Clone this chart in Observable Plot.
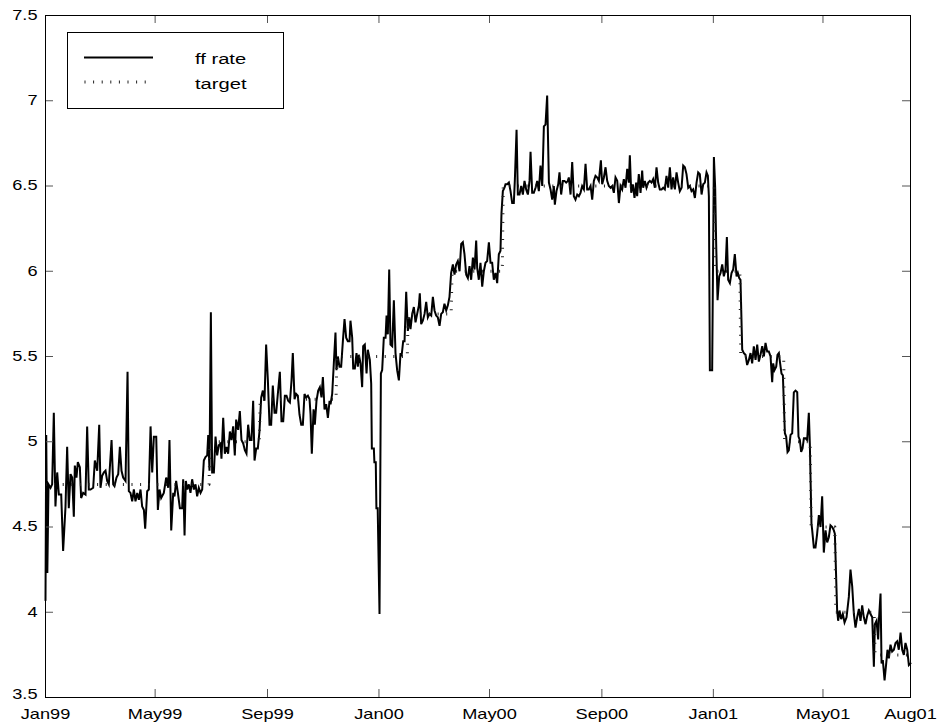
<!DOCTYPE html>
<html>
<head>
<meta charset="utf-8">
<script src="https://cdn.jsdelivr.net/npm/d3@7"></script>
<script src="https://cdn.jsdelivr.net/npm/@observablehq/plot@0.6"></script>
<style>
  html, body { margin: 0; padding: 0; background: #fff; }
  #chart { width: 938px; height: 726px; }
</style>
</head>
<body>
<div id="chart"></div>
<script>
// ---- data: [days since 1999-01-01, rate %] ----
const BASE_DATE = "1999-01-01";
const X_END_DATE = "2001-08-04T19:00:00Z";

const ffEarly1999 = [[0,4.07],[0.8,5.04],[2,4.23],[3.3,4.75],[5.5,4.73],[7.3,4.75],[9.1,5.17],[10.9,4.62],[12.8,4.82],[14.6,4.69],[17.2,4.69],[19.3,4.36],[21.9,4.62],[23.7,4.97],[25.5,4.61],[27.4,4.81],[29.2,4.79],[31,4.56],[32.1,4.86],[33.9,4.79],[35.4,4.88],[37.6,4.85],[39,4.67],[41.2,4.70],[43.8,4.69],[45.6,5.09],[47.4,4.72],[49.3,4.72],[52.2,4.73],[54,4.89],[56.6,4.83],[58.8,5.10],[60.2,4.73],[62,4.80],[63.9,4.82],[65.7,4.83],[67.5,4.77],[69.3,4.75],[72.3,5.01],[74.1,4.75],[75.5,4.74],[77.7,4.79],[79.6,4.81],[81.4,4.97],[83.2,4.83],[85,4.79],[87.6,4.77],[89.8,5.41],[91.2,4.71],[93,4.70],[94.9,4.65],[96.7,4.72],[98.5,4.65],[100.4,4.70],[102.2,4.66],[104,4.72],[105.8,4.62],[107.7,4.60],[109.1,4.49],[111.3,4.71],[113.1,4.72],[115,5.09],[116.8,4.82],[118.6,5.03],[121.2,5.03],[123,4.60],[124.8,4.72],[126.6,4.67],[129.5,4.70],[132.1,4.79],[134.3,4.73],[135.7,5.01],[137.6,4.48],[139.8,4.70],[141.2,4.68],[143,4.77],[144.9,4.70],[147.1,4.61],[149.6,4.61],[150.7,4.78],[152.2,4.45],[153.6,4.77]];

const ffLate1999 = [[155.1,4.72],[156.9,4.75],[158.7,4.70],[160.5,4.78],[162.4,4.72],[164.2,4.75],[166,4.68],[167.8,4.73],[169.7,4.70],[171.5,4.72],[173.3,4.89],[175.1,4.91],[177,4.92],[178.1,5.04],[179.5,4.83],[181,5.76],[182.4,4.82],[184.3,4.82],[186.1,5.03],[187.9,4.92],[189.7,4.98],[191.6,4.99],[192.6,4.90],[194.5,5.14],[196.3,4.93],[198.1,4.97],[199.9,4.93],[201.8,5.06],[203.6,5.01],[205.4,5.09],[207.2,4.92],[208.7,5.13],[210.9,5.07],[212.7,5.18],[214.5,5.01],[216.4,4.99],[218.2,4.95],[220,4.93],[221.8,5.10],[223.7,5.01],[225.5,5.01],[227.3,5.24],[228.8,4.89],[230.6,4.96],[232.4,4.96],[234.2,5.06],[236.1,5.26],[237.9,5.30],[239.7,5.24],[241.5,5.57],[243.4,5.36],[245.2,5.10],[247,5.10],[248.8,5.33],[250.7,5.17],[252.5,5.17],[254.3,5.28],[256.5,5.41],[258.3,5.12],[260.2,5.12],[262,5.27],[263.8,5.27],[265.6,5.24],[267.5,5.23],[269.3,5.36],[270.7,5.52],[272.6,5.25],[274.4,5.28],[276.2,5.27],[278,5.16],[279.9,5.10],[281.7,5.10],[283.5,5.28],[285.3,5.26],[287.2,5.27],[289,5.25],[290.1,5.16],[291.5,4.93],[293.4,5.19],[294.8,5.10],[296.6,5.24],[298.5,5.30],[300.3,5.32],[302.1,5.26],[303.6,5.38],[305.4,5.19],[307.2,5.22],[309.1,5.14],[310.9,5.24]];

const ffTurn2000 = [[312,5.22],[313.8,5.28],[315.6,5.46],[317.4,5.64],[318.5,5.42],[320,5.50],[321.8,5.44],[323.6,5.44],[325.5,5.59],[327.3,5.72],[329.1,5.61],[330.9,5.59],[332.8,5.59],[333.8,5.71],[335.7,5.61],[336.8,5.43],[338.6,5.43],[340.4,5.52],[341.9,5.44],[343,5.51],[344.8,5.46],[346.6,5.32],[347.7,5.56],[349.5,5.57],[351.4,5.40],[352.8,5.54],[355,5.48],[356.5,5.34],[357.2,4.96],[359.4,4.96],[360,4.88],[361.5,4.88],[362.2,4.61],[363.6,4.61],[365.6,3.99],[367.1,5.40],[368.5,5.42],[370.3,5.61],[372.2,5.61],[373.3,5.74],[374.7,5.63],[376.2,6.01],[377.6,5.57],[379.5,5.56],[381.3,5.83],[383.1,5.52],[384.9,5.42],[386.8,5.36],[388.6,5.52],[389.7,5.50],[391.5,5.59],[393,5.59],[394.8,5.88],[396.6,5.65],[398.1,5.73],[399.5,5.66],[401.4,5.75],[403.2,5.79],[405,5.70],[406.8,5.75],[408.7,5.80],[409.7,5.87],[411.2,5.69],[413,5.71],[414.9,5.75],[416.7,5.82],[418.5,5.73],[420.3,5.75],[422.2,5.74],[424,5.85],[425.8,5.77],[427.6,5.74],[429.4,5.73],[431.3,5.68],[433.1,5.75],[434.9,5.76],[436.7,5.81],[438.6,5.77],[440.4,5.80],[442.2,5.85],[444,5.99],[445.9,6.04],[447.7,5.98],[449.5,6.04],[451.3,6.06],[453.2,6.00],[455,6.16],[456.8,6.17],[458.6,6.10],[460.5,5.98],[462.3,5.96],[464.1,6.03],[465.9,5.95],[467.8,6.08],[469.6,6.01],[471.4,6.18]];

const ffMid2000 = [[472.5,6.02],[474.3,5.95],[476.1,6.05],[478,5.91],[479.8,6.00],[481.6,6.05],[483.4,6.06],[485.3,6.17],[487.1,6.05],[488.9,6.05],[490.7,5.95],[492.6,5.99],[494.4,5.93],[496.2,6.10],[498,6.12],[499.1,6.34],[500.6,6.47],[502.4,6.49],[503.5,6.51],[505.3,6.51],[507.2,6.52],[509,6.47],[510.8,6.40],[512.6,6.40],[513.7,6.53],[515.6,6.83],[517,6.45],[518.8,6.45],[520.7,6.50],[522.5,6.45],[524.3,6.53],[526.1,6.48],[528,6.45],[529.8,6.53],[530.9,6.70],[532.7,6.46],[534.5,6.46],[536.4,6.49],[538.2,6.53],[540,6.47],[541.8,6.62],[543.7,6.50],[545.5,6.85],[547.3,6.86],[549.1,7.03],[551,6.52],[552.8,6.48],[554.6,6.42],[556.4,6.50],[557.5,6.39],[559.3,6.47],[561.2,6.51],[562.6,6.58],[564.4,6.45],[566.3,6.53],[568.1,6.53],[569.9,6.52],[571.7,6.53],[572.8,6.55],[574.7,6.45],[576.5,6.64],[578.3,6.44],[580.1,6.42],[582,6.45],[583.8,6.44],[585.6,6.46],[587.4,6.50],[589.3,6.48],[591.1,6.63],[592.9,6.48],[594.7,6.48],[596.6,6.50],[598.4,6.42],[600.2,6.53],[602,6.56],[603.9,6.55],[605.7,6.53],[607.9,6.65],[609.3,6.51],[611.2,6.55],[613,6.61],[614.8,6.53],[616.6,6.50],[618.5,6.49],[620.3,6.50],[622.1,6.46],[623.9,6.55],[625.8,6.53],[627.6,6.40]];

const ffTurn2001 = [[629.4,6.50],[631.2,6.48],[633,6.54],[634.9,6.49],[636.7,6.60],[638.5,6.52],[639.6,6.68],[641.1,6.46],[642.9,6.51],[644.7,6.43],[646.5,6.52],[647.6,6.44],[649.4,6.57],[651.3,6.46],[653.1,6.59],[654.2,6.49],[656,6.53],[657.8,6.49],[659.7,6.52],[661.5,6.53],[663.3,6.52],[665.1,6.54],[667,6.49],[668.8,6.61],[670.6,6.52],[672.4,6.48],[674.3,6.48],[676.1,6.49],[677.9,6.48],[679.7,6.56],[681.6,6.49],[683.4,6.61],[685.2,6.48],[687,6.55],[688.9,6.48],[690.7,6.58],[692.5,6.52],[694.3,6.47],[696.2,6.49],[698,6.62],[699.8,6.61],[701.6,6.57],[703.5,6.49],[705.3,6.50],[707.1,6.47],[708.9,6.48],[710.8,6.43],[712.6,6.52],[714.4,6.58],[716.2,6.57],[718.1,6.45],[719.9,6.51],[721.7,6.52],[723.5,6.58],[725,6.56],[726.1,6.44],[727.2,5.42],[729.7,5.42],[731.6,6.67],[733,6.49],[734.1,6.16],[735.6,5.83],[737.4,5.97],[738.9,5.99],[740.7,6.04],[742.5,5.97],[744.3,6.01],[745.8,6.20],[747.2,5.95],[749.1,5.93],[750.9,5.99],[752.7,6.01],[754.5,6.10],[756.4,5.97],[757.8,5.99],[759.3,5.96],[760.7,5.95],[762.6,5.54],[764.4,5.52],[766.2,5.51],[768,5.45],[769.9,5.48],[771.7,5.52],[773.5,5.46],[775.3,5.56],[777.2,5.48],[779,5.57],[780.8,5.47],[782.6,5.51],[784.5,5.56],[786.3,5.50]];

const ffLate2001 = [[788.1,5.58],[789.9,5.53],[791.7,5.53],[793.6,5.50],[795.4,5.35],[796.5,5.46],[797.9,5.42],[799.8,5.44],[801.2,5.51],[802.7,5.52],[804.1,5.46],[805.6,5.40],[807.1,5.39],[809.3,5.05],[810.7,5.03],[812.2,4.94],[813.6,4.95],[815.5,5.04],[817.3,5.05],[819.1,5.29],[820.9,5.30],[822.8,5.29],[824.2,5.03],[825.7,5.01],[827.1,4.94],[828.6,4.96],[830.1,5.02],[831.9,5.02],[833.7,5.01],[835.5,5.17],[836.6,4.99],[838.4,4.52],[839.2,4.48],[841,4.38],[842.8,4.38],[844.6,4.46],[846.5,4.57],[848.3,4.50],[850.1,4.68],[851.9,4.35],[853.8,4.48],[855.6,4.41],[857.4,4.44],[859.2,4.51],[861.1,4.50],[862.9,4.48],[864,4.46],[866.5,4.01],[867.6,3.95],[869.1,4.01],[870.9,3.96],[872.7,3.99],[874.6,3.94],[876.8,3.97],[879.3,4.09],[881.1,4.25],[883,4.15],[884.8,3.99],[886.6,3.91],[888.4,3.97],[890.3,4.02],[892.1,3.95],[893.9,4.04],[895.7,3.97],[897.6,3.93],[899.4,3.98],[901.2,4.01],[903,3.99],[904.9,3.97],[906.7,3.68],[907.8,3.93],[909.6,3.95],[911.4,3.84],[912.2,3.95],[914,4.11],[915.1,3.70],[916.5,3.72],[918.4,3.60],[920.2,3.70],[921.6,3.78],[923.1,3.73],[924.9,3.81],[926.7,3.77],[928.6,3.78],[930.4,3.82],[932.2,3.83],[934,3.78],[935.9,3.88],[937.7,3.78],[939.5,3.75],[941.3,3.82],[943.2,3.78],[945,3.69],[946.8,3.70]];

const targetRate = [[0,4.75],[179,4.75],[180,5.00],[234,5.00],[235,5.25],[318,5.25],[319,5.50],[396,5.50],[397,5.75],[444,5.75],[445,6.00],[500,6.00],[501,6.50],[732,6.50],[733,6.00],[760,6.00],[761,5.50],[808,5.50],[809,5.00],[837,5.00],[838,4.50],[864,4.50],[865,4.00],[907,4.00],[908,3.75],[946.8,3.75]];

const xTickDates = ["1999-01-01","1999-05-01","1999-09-01","2000-01-01","2000-05-01","2000-09-01","2001-01-01","2001-05-01",X_END_DATE];
const xTickLabels = ["Jan99","May99","Sep99","Jan00","May00","Sep00","Jan01","May01","Aug01"];
const yTicks = [3.5,4,4.5,5,5.5,6,6.5,7,7.5];
const yTickLabels = ["3.5","4","4.5","5","5.5","6","6.5","7","7.5"];
const legendLabels = ["ff rate","target"];

// ---- drawing ----
const base = new Date(BASE_DATE + "T00:00:00Z").getTime();
const toDate = d => new Date(base + d * 86400000);
const ff = [...ffEarly1999, ...ffLate1999, ...ffTurn2000, ...ffMid2000, ...ffTurn2001, ...ffLate2001];

const W = 938, H = 726, mL = 45, mR = 28, mT = 15, mB = 29;
const innerW = W - mL - mR, innerH = H - mT - mB;
const TICK = 8;
const XSCALE = 1.3;
const FONT = "'Liberation Sans', Arial, Helvetica, sans-serif";

const xDates = xTickDates.map(s => new Date(s.length > 10 ? s : s + "T00:00:00Z"));
const xLabelMap = new Map(xDates.map((d, i) => [+d, xTickLabels[i]]));
const yLabelMap = new Map(yTicks.map((v, i) => [v, yTickLabels[i]]));
const innerXTicks = xDates.slice(1, -1);
const innerYTicks = yTicks.slice(1, -1);

const plot = Plot.plot({
  width: W, height: H,
  marginLeft: mL, marginRight: mR, marginTop: mT, marginBottom: mB,
  style: {fontFamily: FONT, fontSize: "14px", background: "#fff", color: "#000"},
  x: {type: "utc", domain: [new Date(base), new Date(X_END_DATE)]},
  y: {domain: [3.5, 7.5]},
  marks: [
    Plot.line(ff, {x: d => toDate(d[0]), y: d => d[1], stroke: "#000", strokeWidth: 2, strokeLinejoin: "miter", strokeMiterlimit: 4}),
    Plot.line(targetRate, {x: d => toDate(d[0]), y: d => d[1], stroke: "#222", strokeWidth: 3, strokeDasharray: "1 7.6", strokeLinecap: "butt"}),
    Plot.tickX(innerXTicks, {x: d => d, insetTop: innerH - TICK, stroke: "#555", strokeWidth: 1}),
    Plot.tickX(innerXTicks, {x: d => d, insetBottom: innerH - TICK, stroke: "#555", strokeWidth: 1}),
    Plot.tickY(innerYTicks, {y: d => d, insetRight: innerW - TICK, stroke: "#555", strokeWidth: 1}),
    Plot.tickY(innerYTicks, {y: d => d, insetLeft: innerW - TICK, stroke: "#555", strokeWidth: 1}),
    Plot.axisX(xDates, {tickSize: 0, tickPadding: 12, tickFormat: d => xLabelMap.get(+d), label: null, fontSize: 14, fill: "#000"}),
    Plot.axisY(yTicks, {tickSize: 0, tickPadding: 8, tickFormat: d => yLabelMap.get(d), label: null, fontSize: 14, fill: "#000"}),
    Plot.frame({stroke: "#000", strokeWidth: 1})
  ]
});

// widen text glyphs to match the reference's horizontally stretched lettering
plot.querySelectorAll("text").forEach(t => {
  const tr = t.getAttribute("transform") || "";
  const xa = t.getAttribute("x");
  let pre = "";
  if (xa !== null && !/em/.test(xa)) { pre = ` translate(${parseFloat(xa)},0)`; t.removeAttribute("x"); }
  // the lowest y label sits slightly above its tick in the reference
  const lift = t.textContent === yTickLabels[0] ? " translate(0,-3)" : "";
  t.setAttribute("transform", `${tr}${pre}${lift} scale(${XSCALE},1)`.trim());
});

// legend box (inside plot, top-left)
const ns = "http://www.w3.org/2000/svg";
const g = document.createElementNS(ns, "g");
g.setAttribute("font-family", FONT);
g.setAttribute("font-size", "15.5");
g.setAttribute("text-anchor", "start");
g.innerHTML = `
  <rect x="67.5" y="32.5" width="216" height="76" fill="#fff" stroke="#000" stroke-width="1"/>
  <line x1="84" x2="153" y1="57.5" y2="57.5" stroke="#000" stroke-width="2"/>
  <line x1="84.5" x2="148" y1="82" y2="82" stroke="#222" stroke-width="3" stroke-dasharray="1 7.6"/>
  <text text-anchor="start" transform="translate(195,64) scale(${XSCALE},1)" fill="#000">${legendLabels[0]}</text>
  <text text-anchor="start" transform="translate(195,88.5) scale(${XSCALE},1)" fill="#000">${legendLabels[1]}</text>`;
plot.appendChild(g);

document.getElementById("chart").appendChild(plot);
</script>
</body>
</html>
